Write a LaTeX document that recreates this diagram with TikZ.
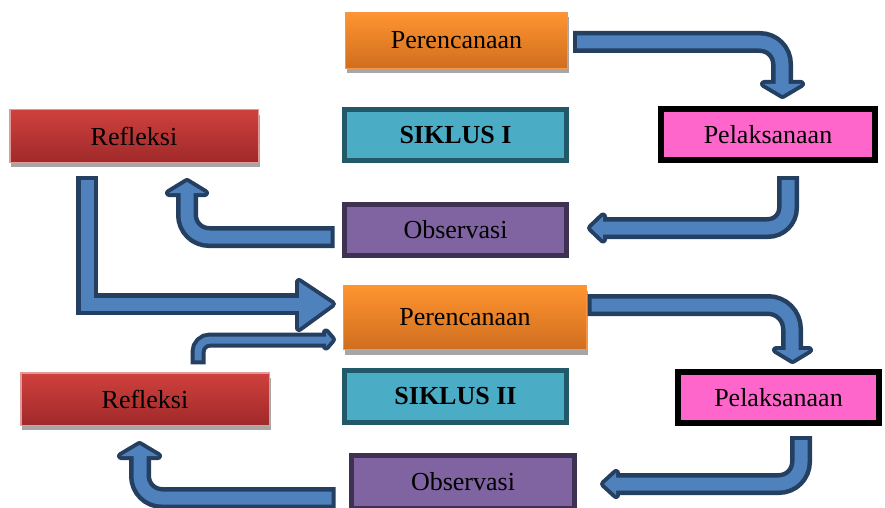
\documentclass[tikz,border=0pt]{standalone}
\usepackage{fontspec}
\setmainfont{Liberation Serif}
\usetikzlibrary{calc,shadows}
\definecolor{arrfill}{HTML}{4F81BD}
\definecolor{arrline}{HTML}{243F60}
\definecolor{orT}{HTML}{FF9430}
\definecolor{orB}{HTML}{D06E1F}
\definecolor{orE}{HTML}{F79646}
\definecolor{rdT}{HTML}{CF413D}
\definecolor{rdB}{HTML}{A0292A}
\definecolor{rdE}{HTML}{E29A98}
\definecolor{tlF}{HTML}{4BACC6}
\definecolor{tlE}{HTML}{215968}
\definecolor{puF}{HTML}{8064A2}
\definecolor{puE}{HTML}{3F3151}
\definecolor{pkF}{HTML}{FF66CC}
\tikzset{
  box/.style={rectangle, inner sep=0pt, text=black, font=\fontsize{26}{30}\selectfont},
  shad/.style={drop shadow={shadow xshift=1.5pt, shadow yshift=-5pt, fill=black!35, opacity=1}},
  planbox/.style={box, shad, top color=orT, bottom color=orB, draw=orE, line width=1pt},
  reflbox/.style={box, shad, top color=rdT, bottom color=rdB, draw=rdE, line width=1.5pt},
  cyclebox/.style={box, fill=tlF, draw=tlE, line width=5pt, font=\fontsize{26}{30}\selectfont\bfseries},
  obsbox/.style={box, fill=puF, draw=puE, line width=5pt},
  pelbox/.style={box, fill=pkF, draw=black, line width=6pt},
}
\newcommand\blockarrow[5]{% outer width, inner width, rounding, shaft path, head polygon
  \draw[arrline, line width=#1, rounded corners=#3] #4;
  \filldraw[arrline, line width=8pt, line join=round] #5 -- cycle;
  \draw[arrfill, line width=#2, rounded corners=#3, shorten <=4pt] #4;
  \fill[arrfill] #5 -- cycle;
}
\begin{document}
\begin{tikzpicture}[x=1pt,y=-1pt]
\useasboundingbox (0,0) rectangle (885,508);
\clip (0,0) rectangle (885,508);
% cycle I
\node[planbox, minimum width=222pt, minimum height=56pt] (per1) at (456.5,40.5) {Perencanaan};
\node[reflbox, minimum width=248.5pt, minimum height=52.5pt] (ref1) at (134,136) {Refleksi};
\node[cyclebox, minimum width=222pt, minimum height=51pt] (sik1) at (455.5,135) {SIKLUS I};
\node[obsbox, minimum width=222pt, minimum height=51pt] (obs1) at (455.5,230) {Observasi};
\node[pelbox, minimum width=214pt, minimum height=51pt] (pel1) at (768,134.5) {Pelaksanaan};
% cycle II
\node[planbox, minimum width=243pt, minimum height=64pt] (per2) at (465,317.5) {Perencanaan};
\node[reflbox, minimum width=248.5pt, minimum height=52.5pt] (ref2) at (145,399) {Refleksi};
\node[cyclebox, minimum width=222pt, minimum height=52pt] (sik2) at (455.5,396.5) {SIKLUS II};
\node[pelbox, minimum width=201pt, minimum height=51pt] (pel2) at (778.5,397.5) {Pelaksanaan};
\node[obsbox, minimum width=223pt, minimum height=53pt] (obs2) at (463,482) {Observasi};
% arrows
\blockarrow{22pt}{13pt}{22pt}{($(per1.east)+(5,1.5)$) -- (782,42) -- (782,84)}{(764,84) -- (801,84) -- (782.5,95)}
\blockarrow{22pt}{13pt}{20pt}{($(pel1.south)+(20,13)$) -- (788,228) -- (603,228)}{(603,216.5) -- (603,239.5) -- (591,228)}
\blockarrow{22pt}{13pt}{22pt}{($(obs1.west)+(-7.5,7)$) -- (187,237) -- (187,193)}{(169,193) -- (205,193) -- (187,182)}
\blockarrow{22pt}{13pt}{0pt}{($(ref1.south)+(-47,12.75)$) -- (87,304) -- (299,304)}{(299,282) -- (299,328) -- (332,304)}
\blockarrow{15pt}{7pt}{12pt}{($(ref2.north)+(53,-7.75)$) -- (198,340) -- (326,340)}{(326,332.5) -- (326,346.5) -- (332,339.5)}
\blockarrow{22pt}{13pt}{24pt}{($(per2.east)+(0.5,-12.5)$) -- (792,305) -- (792,350)}{(776,350) -- (809,350) -- (792.5,360)}
\blockarrow{22pt}{13pt}{22pt}{($(pel2.south)+(22.5,10)$) -- (801,484) -- (616,484)}{(616,473) -- (616,495) -- (604,484)}
\blockarrow{22pt}{13pt}{22pt}{($(obs2.west)+(-13.5,16)$) -- (140,498) -- (140,456)}{(121,456) -- (158,456) -- (139.5,445)}
\end{tikzpicture}
\end{document}
